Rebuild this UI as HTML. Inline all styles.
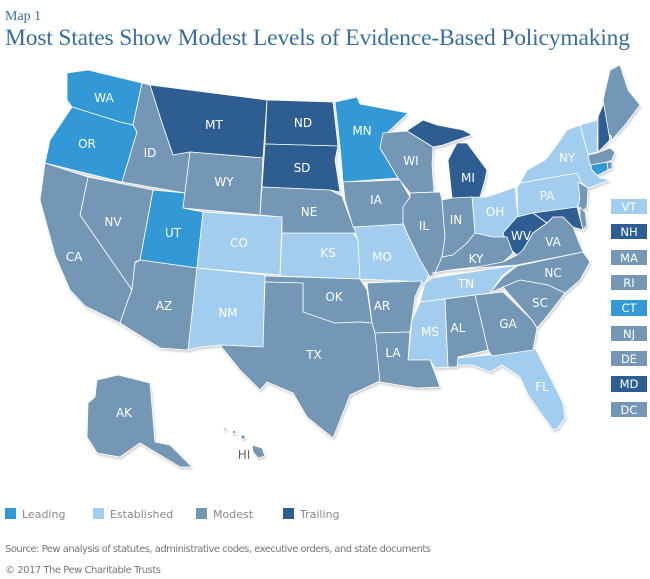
<!DOCTYPE html>
<html><head><meta charset="utf-8"><style>
body{margin:0;background:#fff;width:650px;height:579px;overflow:hidden;font-family:"Liberation Sans",sans-serif;}
svg{position:absolute;left:0;top:0}
.t{fill:#fff;text-anchor:middle;dominant-baseline:central;font-family:"DejaVu Sans","Liberation Sans",sans-serif;font-size:12px}
</style></head><body>
<svg width="650" height="579" viewBox="0 0 650 579">
<defs><filter id="sh" x="-5%" y="-5%" width="110%" height="110%"><feDropShadow dx="1" dy="2" stdDeviation="1" flood-color="#000" flood-opacity="0.18"/></filter></defs>
<text x="5" y="20" font-family="Liberation Serif,serif" font-size="14" fill="#3a6c9e">Map 1</text>
<text x="5" y="45" font-family="Liberation Serif,serif" font-size="23.5" fill="#3a6c9e" textLength="625">Most States Show Modest Levels of Evidence-Based Policymaking</text>
<g filter="url(#sh)" stroke="#fff" stroke-width="0.8" stroke-linejoin="round">
<g fill="#3399d6">
<polygon points="67,73 88,70 142,83 133,125 120,122 72,107 67,100"/>
<polygon points="72,107 120,122 133,125 137,132 122,182 45,163 50,140"/>
<polygon points="153,190 185,193 183,208 203,212 197,268 140,260"/>
<polygon points="335,102 357,97 360,104 408,113 385,135 380,148 398,178 343,182 340,146"/>
<polygon points="590,165 607,162 608,170 592,178"/>
</g>
<g fill="#a3cdee">
<polygon points="203,212 282,217 280,275 197,268"/>
<polygon points="197,268 265,275 263,347 220,345 200,347 188,350"/>
<polygon points="282,233 353,233 358,240 360,279 280,276"/>
<polygon points="353,227 403,224 410,240 420,260 430,272 425,283 405,281 360,279 358,240"/>
<polygon points="472,197 485,197 493,195 515,187 518,217 507,237 493,237 475,233"/>
<polygon points="517,187 520,183 577,173 582,183 580,207 533,213 518,217"/>
<polygon points="520,183 527,170 545,160 553,150 567,130 580,125 588,154 592,170 600,178 610,180 588,188 582,183 577,173"/>
<polygon points="580,125 598,120 597,152 588,154"/>
<polygon points="432,278 517,265 503,275 490,293 420,302 425,283"/>
<polygon points="420,302 445,299 448,367 435,368 430,360 408,360 412,320"/>
<polygon points="457,358 490,355 528,350 535,348 550,377 563,403 565,418 558,428 553,430 540,412 528,395 520,377 502,365 490,372 473,365 457,365"/>
</g>
<g fill="#2e5d91">
<polygon points="150,85 267,100 263,158 190,152 173,155 162,123"/>
<polygon points="267,100 333,102 338,146 265,144"/>
<polygon points="265,144 338,146 335,160 340,192 330,190 262,187"/>
<polygon points="405,132 423,120 437,125 463,130 472,135 457,140 443,145 433,147"/>
<polygon points="457,143 467,143 487,170 485,180 480,197 452,198 448,160"/>
<polygon points="517,217 533,213 547,223 533,233 523,250 517,255 508,247 503,233"/>
<polygon points="533,213 577,207 583,230 573,227 563,217 553,217 547,223"/>
<polygon points="598,117 605,100 610,140 598,152"/>
</g>
<g fill="#7397b5">
<polygon points="142,83 150,85 162,123 173,155 190,152 185,193 122,182 137,132 133,125"/>
<polygon points="190,152 263,158 260,215 183,208"/>
<polygon points="262,187 330,190 342,196 350,218 356,233 282,233 282,217 260,215"/>
<polygon points="88,177 153,190 140,260 135,262 132,290 80,215"/>
<polygon points="45,163 88,177 80,215 132,290 128,300 120,323 85,306 70,290 55,255 40,200"/>
<polygon points="140,260 197,268 188,350 160,348 120,323 128,300 132,290 135,263"/>
<polygon points="265,276 360,279 367,290 372,323 360,322 335,323 303,320 303,283 265,282"/>
<polygon points="265,282 303,283 303,312 335,323 360,322 372,323 375,333 382,380 350,395 333,438 307,417 293,393 267,382 260,390 240,370 220,345 263,347"/>
<polygon points="343,182 400,180 410,197 403,210 403,224 353,227 345,200"/>
<polygon points="383,133 407,131 433,147 432,165 434,192 410,193 398,178 380,148"/>
<polygon points="410,193 440,192 442,200 445,237 442,257 435,273 430,277 420,260 407,233 403,223 403,207 410,197"/>
<polygon points="442,200 452,198 472,197 475,233 467,243 453,255 442,257 445,237"/>
<polygon points="442,257 453,255 467,243 475,233 493,237 507,237 513,253 502,263 477,267 450,270 432,273 435,273"/>
<polygon points="477,267 503,262 517,255 523,250 533,233 547,223 553,217 563,217 573,227 578,240 583,252 517,265 450,270"/>
<polygon points="490,293 503,277 517,266 583,252 590,262 580,280 565,293 548,285 520,280 503,287"/>
<polygon points="503,287 520,280 548,285 565,293 548,315 537,328 532,320"/>
<polygon points="475,295 503,292 532,320 537,328 533,350 492,356 488,350"/>
<polygon points="445,299 475,295 488,350 458,357 457,367 448,367"/>
<polygon points="367,283 422,281 415,297 410,332 375,333 372,323"/>
<polygon points="375,333 410,332 408,360 430,360 435,373 440,387 417,388 380,382"/>
<polygon points="603,100 610,70 620,65 628,90 640,105 625,125 612,140 610,140"/>
<polygon points="588,155 597,153 610,148 615,152 612,160 607,162 590,165"/>
<polygon points="607,162 612,162 612,168 608,170"/>
<polygon points="578,182 588,188 587,207 582,212 578,207 580,198"/>
<polygon points="580,207 585,212 587,225 583,230 580,217"/>
<polygon points="97,380 118,375 150,383 155,442 170,445 192,467 180,467 140,443 120,457 97,453 87,437 88,403 95,397"/>
<polygon points="252,445 262,448 265,456 258,458 253,452"/>
<circle cx="243" cy="437" r="2"/><circle cx="234" cy="432" r="1.5"/><circle cx="225" cy="429" r="1.2"/>
</g>
</g>
<g class="t">
<text x="104" y="98">WA</text><text x="87" y="144">OR</text><text x="150" y="153">ID</text><text x="214" y="125">MT</text>
<text x="303" y="123">ND</text><text x="302" y="168">SD</text><text x="224" y="182">WY</text><text x="309" y="212">NE</text>
<text x="173" y="233">UT</text><text x="239" y="243">CO</text><text x="328" y="253">KS</text><text x="113" y="222">NV</text>
<text x="74" y="257">CA</text><text x="164" y="306">AZ</text><text x="228" y="313">NM</text><text x="334" y="297">OK</text>
<text x="314" y="355">TX</text><text x="362" y="131">MN</text><text x="411" y="161">WI</text><text x="468" y="178">MI</text>
<text x="376" y="200">IA</text><text x="424" y="226">IL</text><text x="456" y="220">IN</text><text x="495" y="212">OH</text>
<text x="476" y="259">KY</text><text x="466" y="284">TN</text><text x="382" y="257">MO</text><text x="382" y="306">AR</text>
<text x="393" y="353">LA</text><text x="430" y="332">MS</text><text x="458" y="328">AL</text><text x="508" y="324">GA</text>
<text x="540" y="303">SC</text><text x="553" y="273">NC</text><text x="553" y="242">VA</text><text x="521" y="236">WV</text>
<text x="547" y="196">PA</text><text x="567" y="158">NY</text><text x="542" y="387">FL</text><text x="124" y="413">AK</text>
<text x="617" y="140">ME</text>
</g>
<text x="244" y="459" text-anchor="middle" font-size="12" fill="#666" font-family="DejaVu Sans,sans-serif">HI</text>
<g font-family="DejaVu Sans,sans-serif" font-size="11.5" text-anchor="middle" fill="#fff">
<rect x="611" y="199" width="36" height="15" fill="#a3cdee"/><text x="629" y="211">VT</text>
<rect x="611" y="224" width="36" height="15" fill="#2e5d91"/><text x="629" y="236">NH</text>
<rect x="611" y="250" width="36" height="15" fill="#7397b5"/><text x="629" y="262">MA</text>
<rect x="611" y="275" width="36" height="15" fill="#7397b5"/><text x="629" y="287">RI</text>
<rect x="611" y="300" width="36" height="16" fill="#3399d6"/><text x="629" y="312">CT</text>
<rect x="611" y="326" width="36" height="15" fill="#7397b5"/><text x="629" y="338">NJ</text>
<rect x="611" y="351" width="36" height="15" fill="#7397b5"/><text x="629" y="363">DE</text>
<rect x="611" y="376" width="36" height="16" fill="#2e5d91"/><text x="629" y="388">MD</text>
<rect x="611" y="402" width="36" height="15" fill="#7397b5"/><text x="629" y="414">DC</text>
</g>
<g font-family="DejaVu Sans,sans-serif" font-size="11" fill="#888">
<rect x="5" y="508" width="11" height="11" fill="#3399d6"/><text x="22" y="518">Leading</text>
<rect x="93" y="508" width="11" height="11" fill="#a3cdee"/><text x="110" y="518">Established</text>
<rect x="196" y="508" width="11" height="11" fill="#7397b5"/><text x="213" y="518">Modest</text>
<rect x="283" y="508" width="11" height="11" fill="#2e5d91"/><text x="300" y="518">Trailing</text>
<text x="5" y="552" font-size="10" fill="#777" textLength="426">Source: Pew analysis of statutes, administrative codes, executive orders, and state documents</text>
<text x="5" y="573" font-size="10" fill="#777" textLength="156">© 2017 The Pew Charitable Trusts</text>
</g>
</svg>
</body></html>
